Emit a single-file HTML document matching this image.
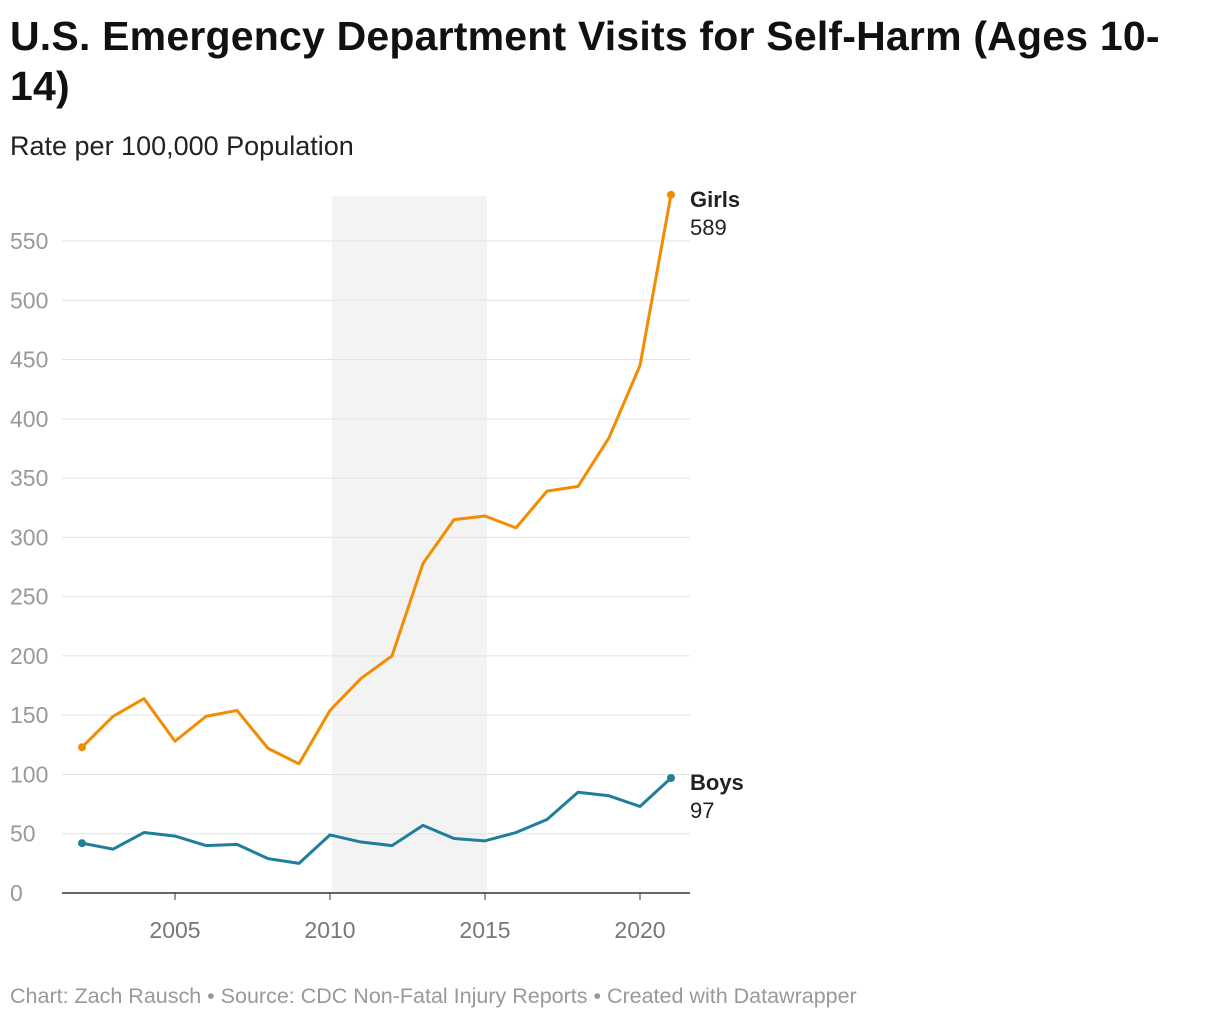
<!DOCTYPE html>
<html><head><meta charset="utf-8"><style>
body{margin:0;background:#fff;font-family:"Liberation Sans",sans-serif;}
#wrap{position:relative;width:1220px;height:1020px;overflow:hidden}
h1{position:absolute;left:10px;top:11px;margin:0;font-size:41px;line-height:50px;font-weight:bold;color:#111;width:1200px;letter-spacing:0.2px}
.sub{position:absolute;left:10px;top:131px;font-size:27px;color:#222}
.foot{position:absolute;left:10px;top:984px;font-size:21.5px;color:#999}
svg{position:absolute;left:0;top:0}
</style></head><body><div id="wrap">
<h1>U.S. Emergency Department Visits for Self-Harm (Ages 10-<br>14)</h1>
<div class="sub">Rate per 100,000 Population</div>
<svg id="chart" width="1220" height="1020"></svg>
<div class="foot">Chart: Zach Rausch • Source: CDC Non-Fatal Injury Reports • Created with Datawrapper</div>
</div>
<script>
const years=[2002,2003,2004,2005,2006,2007,2008,2009,2010,2011,2012,2013,2014,2015,2016,2017,2018,2019,2020,2021];
const girls=[123,149,164,128,149,154,122,109,154,181,200,278,315,318,308,339,343,384,445,589];
const boys=[42,37,51,48,40,41,29,25,49,43,40,57,46,44,51,62,85,82,73,97];
const yTicks=[0,50,100,150,200,250,300,350,400,450,500,550];
const xTicks=[2005,2010,2015,2020];
const shade=[2010,2015];
const NS="http://www.w3.org/2000/svg";
const svg=document.getElementById('chart');
const x=v=>82+(v-2002)*31;
const y=v=>893-v*(652/550);
function mk(t,a){const e=document.createElementNS(NS,t);for(const k in a)e.setAttribute(k,a[k]);svg.appendChild(e);return e;}
let r=mk('rect',{x:x(shade[0])+2,y:196,width:x(shade[1])-x(shade[0]),height:893-196,fill:'#f3f3f3'});


yTicks.forEach(t=>{
 if(t>0){let g=mk('line',{x1:62,x2:690,y1:y(t),y2:y(t),stroke:'#e3e3e3','stroke-width':1});
 
 }
 let l=mk('text',{x:10,y:y(t)+8,'font-size':23,fill:'#999'});l.textContent=t;
 
 
});
let ax=mk('line',{x1:62,x2:690,y1:893,y2:893,stroke:'#333','stroke-width':1.5});


xTicks.forEach(t=>{
 let tk=mk('line',{x1:x(t),x2:x(t),y1:893,y2:900,stroke:'#333'});
 
 
 let l=mk('text',{x:x(t),y:938,'font-size':23,fill:'#777','text-anchor':'middle'});l.textContent=t;
 
 
});
function series(vals,color,name,label){
 let p=mk('polyline',{points:vals.map((v,i)=>x(years[i])+','+y(v)).join(' '),fill:'none',stroke:color,'stroke-width':3,'stroke-linejoin':'round'});
 
 
 [0,vals.length-1].forEach(i=>{let c=mk('circle',{cx:x(years[i]),cy:y(vals[i]),r:4,fill:color});
 
 });
 const ly=y(vals[vals.length-1]);
 let t=mk('text',{x:690,y:ly+12,'font-size':22,'font-weight':'bold',fill:'#222'});t.textContent=label;
 
 
 let v=mk('text',{x:690,y:ly+40,'font-size':22,fill:'#222'});v.textContent=vals[vals.length-1];
 
 
}
series(girls,'#f28c00','girls','Girls');
series(boys,'#1f7f9b','boys','Boys');
</script></body></html>
